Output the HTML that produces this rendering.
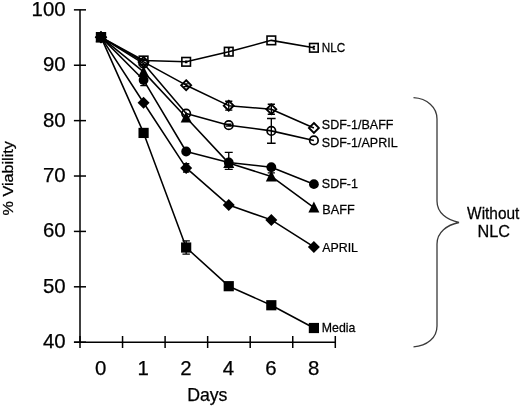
<!DOCTYPE html>
<html><head><meta charset="utf-8"><title>Viability chart</title>
<style>html,body{margin:0;padding:0;background:#fff}svg{display:block}text{font-family:"Liberation Sans",Arial,Helvetica,sans-serif;fill:#000;stroke:#000;stroke-width:0.25px}</style>
</head><body>
<svg width="520" height="406" viewBox="0 0 520 406">
<rect width="520" height="406" fill="#fff"/>
<path d="M80.0 9.85V342.2" stroke="#000" stroke-width="1.5" fill="none"/>
<path d="M74.1 342.2H335.3" stroke="#000" stroke-width="1.5" fill="none"/>
<path d="M73.9 9.85H86" stroke="#000" stroke-width="1.5"/>
<text x="65.6" y="15.85" text-anchor="end" font-size="20.4">100</text>
<path d="M73.9 65.24H86" stroke="#000" stroke-width="1.5"/>
<text x="65.6" y="71.24" text-anchor="end" font-size="20.4">90</text>
<path d="M73.9 120.63H86" stroke="#000" stroke-width="1.5"/>
<text x="65.6" y="126.63" text-anchor="end" font-size="20.4">80</text>
<path d="M73.9 176.02H86" stroke="#000" stroke-width="1.5"/>
<text x="65.6" y="182.02" text-anchor="end" font-size="20.4">70</text>
<path d="M73.9 231.41H86" stroke="#000" stroke-width="1.5"/>
<text x="65.6" y="237.41" text-anchor="end" font-size="20.4">60</text>
<path d="M73.9 286.80H86" stroke="#000" stroke-width="1.5"/>
<text x="65.6" y="292.80" text-anchor="end" font-size="20.4">50</text>
<path d="M73.9 342.19H86" stroke="#000" stroke-width="1.5"/>
<text x="65.6" y="348.19" text-anchor="end" font-size="20.4">40</text>
<path d="M80.00 336V348" stroke="#000" stroke-width="1.5"/>
<path d="M122.55 336V348" stroke="#000" stroke-width="1.5"/>
<path d="M165.10 336V348" stroke="#000" stroke-width="1.5"/>
<path d="M207.65 336V348" stroke="#000" stroke-width="1.5"/>
<path d="M250.20 336V348" stroke="#000" stroke-width="1.5"/>
<path d="M292.75 336V348" stroke="#000" stroke-width="1.5"/>
<path d="M335.30 336V348" stroke="#000" stroke-width="1.5"/>
<text x="100.70" y="374.6" text-anchor="middle" font-size="20.4">0</text>
<text x="143.28" y="374.6" text-anchor="middle" font-size="20.4">1</text>
<text x="185.86" y="374.6" text-anchor="middle" font-size="20.4">2</text>
<text x="228.44" y="374.6" text-anchor="middle" font-size="20.4">4</text>
<text x="271.02" y="374.6" text-anchor="middle" font-size="20.4">6</text>
<text x="313.60" y="374.6" text-anchor="middle" font-size="20.4">8</text>
<text x="207.3" y="400.5" text-anchor="middle" font-size="17.7">Days</text>
<text transform="translate(12.6 178.3) rotate(-90) scale(1.06 1)" text-anchor="middle" font-size="15.3">% Viability</text>
<text transform="translate(321.8 51.7) scale(0.875 1)" font-size="13.4" stroke-width="0.5">NLC</text>
<text transform="translate(321.8 129.1) scale(0.935 1)" font-size="13.4" stroke-width="0.5">SDF-1/BAFF</text>
<text transform="translate(321.8 147) scale(0.935 1)" font-size="13.4" stroke-width="0.5">SDF-1/APRIL</text>
<text transform="translate(321.8 188) scale(0.935 1)" font-size="13.4" stroke-width="0.5">SDF-1</text>
<text transform="translate(322.3 213.6) scale(0.945 1)" font-size="13.4" stroke-width="0.5">BAFF</text>
<text transform="translate(322.2 252.4) scale(0.925 1)" font-size="13.4" stroke-width="0.5">APRIL</text>
<text transform="translate(321.8 331.8) scale(0.92 1)" font-size="13.4" stroke-width="0.5">Media</text>
<path d="M413.5 97.7C427 98.5 437 107 437 119V201C437 213 447 220 459 222.5C447 225 437 232 437 244V326C437 338 427 346 413.5 346.8" fill="none" stroke="#3a3a3a" stroke-width="1.3"/>
<text transform="translate(467.1 218.5) scale(0.977 1)" font-size="15.8">Without</text>
<text transform="translate(477.4 237.3) scale(1.03 1)" font-size="15.8">NLC</text>
<polyline points="101.00,37.16 143.58,132.93 186.16,247.53 228.74,286.19 271.32,305.24 313.90,328.01" fill="none" stroke="#000" stroke-width="1.55" stroke-linejoin="round"/>
<polyline points="101.00,37.16 143.58,102.74 186.16,167.88 228.74,205.10 271.32,219.89 313.90,246.92" fill="none" stroke="#000" stroke-width="1.55" stroke-linejoin="round"/>
<polyline points="101.00,37.16 143.58,71.89 186.16,117.58 228.74,163.11 271.32,176.41 313.90,207.59" fill="none" stroke="#000" stroke-width="1.55" stroke-linejoin="round"/>
<polyline points="101.00,37.16 143.58,80.03 186.16,151.48 228.74,162.45 271.32,167.27 313.90,184.16" fill="none" stroke="#000" stroke-width="1.55" stroke-linejoin="round"/>
<polyline points="101.00,37.16 143.58,63.58 186.16,113.60 228.74,125.17 271.32,130.88 313.90,140.46" fill="none" stroke="#000" stroke-width="1.55" stroke-linejoin="round"/>
<polyline points="101.00,37.16 143.58,61.92 186.16,85.18 228.74,105.67 271.32,109.28 313.90,127.94" fill="none" stroke="#000" stroke-width="1.55" stroke-linejoin="round"/>
<polyline points="101.00,37.16 143.58,60.48 186.16,61.81 228.74,51.67 271.32,40.37 313.90,47.79" fill="none" stroke="#000" stroke-width="1.55" stroke-linejoin="round"/>
<rect x="95.90" y="32.06" width="10.2" height="10.2" fill="#000"/>
<rect x="138.48" y="127.83" width="10.2" height="10.2" fill="#000"/>
<rect x="181.06" y="242.43" width="10.2" height="10.2" fill="#000"/>
<path d="M186.16 240.88V254.18M182.46 240.88H189.86M182.46 254.18H189.86" stroke="#000" stroke-width="1.35" fill="none"/>
<rect x="223.64" y="281.09" width="10.2" height="10.2" fill="#000"/>
<rect x="266.22" y="300.14" width="10.2" height="10.2" fill="#000"/>
<rect x="308.80" y="322.91" width="10.2" height="10.2" fill="#000"/>
<path d="M101.00 31.16L107.00 37.16L101.00 43.16L95.00 37.16Z" fill="#000"/>
<path d="M143.58 96.74L149.58 102.74L143.58 108.74L137.58 102.74Z" fill="#000"/>
<path d="M186.16 161.88L192.16 167.88L186.16 173.88L180.16 167.88Z" fill="#000"/>
<path d="M186.16 163.72V172.03M182.96 163.72H189.36M182.96 172.03H189.36" stroke="#000" stroke-width="1.35" fill="none"/>
<path d="M228.74 199.10L234.74 205.10L228.74 211.10L222.74 205.10Z" fill="#000"/>
<path d="M271.32 213.89L277.32 219.89L271.32 225.89L265.32 219.89Z" fill="#000"/>
<path d="M313.90 240.92L319.90 246.92L313.90 252.92L307.90 246.92Z" fill="#000"/>
<path d="M101.00 31.16L106.50 42.16L95.50 42.16Z" fill="#000"/>
<path d="M143.58 65.89L149.08 76.89L138.08 76.89Z" fill="#000"/>
<path d="M186.16 111.58L191.66 122.58L180.66 122.58Z" fill="#000"/>
<path d="M228.74 157.11L234.24 168.11L223.24 168.11Z" fill="#000"/>
<path d="M271.32 170.41L276.82 181.41L265.82 181.41Z" fill="#000"/>
<path d="M271.32 172.81V180.01M267.72 172.81H274.92M267.72 180.01H274.92" stroke="#000" stroke-width="1.35" fill="none"/>
<path d="M313.90 201.59L319.40 212.59L308.40 212.59Z" fill="#000"/>
<circle cx="101.00" cy="37.16" r="4.9" fill="#000"/>
<circle cx="143.58" cy="80.03" r="4.9" fill="#000"/>
<path d="M143.58 74.49V85.57M140.28 74.49H146.88M140.28 85.57H146.88" stroke="#000" stroke-width="1.35" fill="none"/>
<circle cx="186.16" cy="151.48" r="4.9" fill="#000"/>
<circle cx="228.74" cy="162.45" r="4.9" fill="#000"/>
<circle cx="271.32" cy="167.27" r="4.9" fill="#000"/>
<circle cx="313.90" cy="184.16" r="4.9" fill="#000"/>
<circle cx="101.00" cy="37.16" r="4.25" fill="none" stroke="#000" stroke-width="1.7"/>
<circle cx="143.58" cy="63.58" r="4.25" fill="none" stroke="#000" stroke-width="1.7"/>
<circle cx="186.16" cy="113.60" r="4.25" fill="none" stroke="#000" stroke-width="1.7"/>
<circle cx="228.74" cy="125.17" r="4.25" fill="none" stroke="#000" stroke-width="1.7"/>
<path d="M228.74 124.23V126.11M225.94 124.23H231.54M225.94 126.11H231.54" stroke="#000" stroke-width="1.35" fill="none"/>
<circle cx="271.32" cy="130.88" r="4.25" fill="none" stroke="#000" stroke-width="1.7"/>
<path d="M271.32 118.53V143.23M267.02 118.53H275.62M267.02 143.23H275.62" stroke="#000" stroke-width="1.35" fill="none"/>
<circle cx="313.90" cy="140.46" r="4.25" fill="none" stroke="#000" stroke-width="1.7"/>
<path d="M101.00 32.21L105.95 37.16L101.00 42.11L96.05 37.16Z" fill="none" stroke="#000" stroke-width="1.9"/>
<path d="M143.58 56.97L148.53 61.92L143.58 66.87L138.63 61.92Z" fill="none" stroke="#000" stroke-width="1.9"/>
<path d="M186.16 80.23L191.11 85.18L186.16 90.13L181.21 85.18Z" fill="none" stroke="#000" stroke-width="1.9"/>
<path d="M186.16 83.80V86.57M183.76 83.80H188.56M183.76 86.57H188.56" stroke="#000" stroke-width="1.35" fill="none"/>
<path d="M228.74 100.72L233.69 105.67L228.74 110.62L223.79 105.67Z" fill="none" stroke="#000" stroke-width="1.9"/>
<path d="M228.74 101.24V110.11M225.14 101.24H232.34M225.14 110.11H232.34" stroke="#000" stroke-width="1.35" fill="none"/>
<path d="M271.32 104.33L276.27 109.28L271.32 114.23L266.37 109.28Z" fill="none" stroke="#000" stroke-width="1.9"/>
<path d="M271.32 104.29V114.26M267.72 104.29H274.92M267.72 114.26H274.92" stroke="#000" stroke-width="1.35" fill="none"/>
<path d="M313.90 122.99L318.85 127.94L313.90 132.89L308.95 127.94Z" fill="none" stroke="#000" stroke-width="1.9"/>
<rect x="96.70" y="32.86" width="8.6" height="8.6" fill="none" stroke="#000" stroke-width="1.6"/>
<rect x="139.28" y="56.18" width="8.6" height="8.6" fill="none" stroke="#000" stroke-width="1.6"/>
<rect x="181.86" y="57.51" width="8.6" height="8.6" fill="none" stroke="#000" stroke-width="1.6"/>
<path d="M186.16 61.14V62.47M184.96 61.14H187.36M184.96 62.47H187.36" stroke="#000" stroke-width="1.35" fill="none"/>
<rect x="224.44" y="47.37" width="8.6" height="8.6" fill="none" stroke="#000" stroke-width="1.6"/>
<path d="M228.74 48.62V54.72M227.74 48.62H229.74M227.74 54.72H229.74" stroke="#000" stroke-width="1.35" fill="none"/>
<rect x="267.02" y="36.07" width="8.6" height="8.6" fill="none" stroke="#000" stroke-width="1.6"/>
<rect x="309.60" y="43.49" width="8.6" height="8.6" fill="none" stroke="#000" stroke-width="1.6"/>
<path d="M313.90 46.41V49.18M312.70 46.41H315.10M312.70 49.18H315.10" stroke="#000" stroke-width="1.35" fill="none"/>
<path d="M228.74 152.40V169.30M224.74 152.40H232.74M224.74 169.30H232.74" stroke="#000" stroke-width="1.35" fill="none"/>
</svg>
</body></html>
